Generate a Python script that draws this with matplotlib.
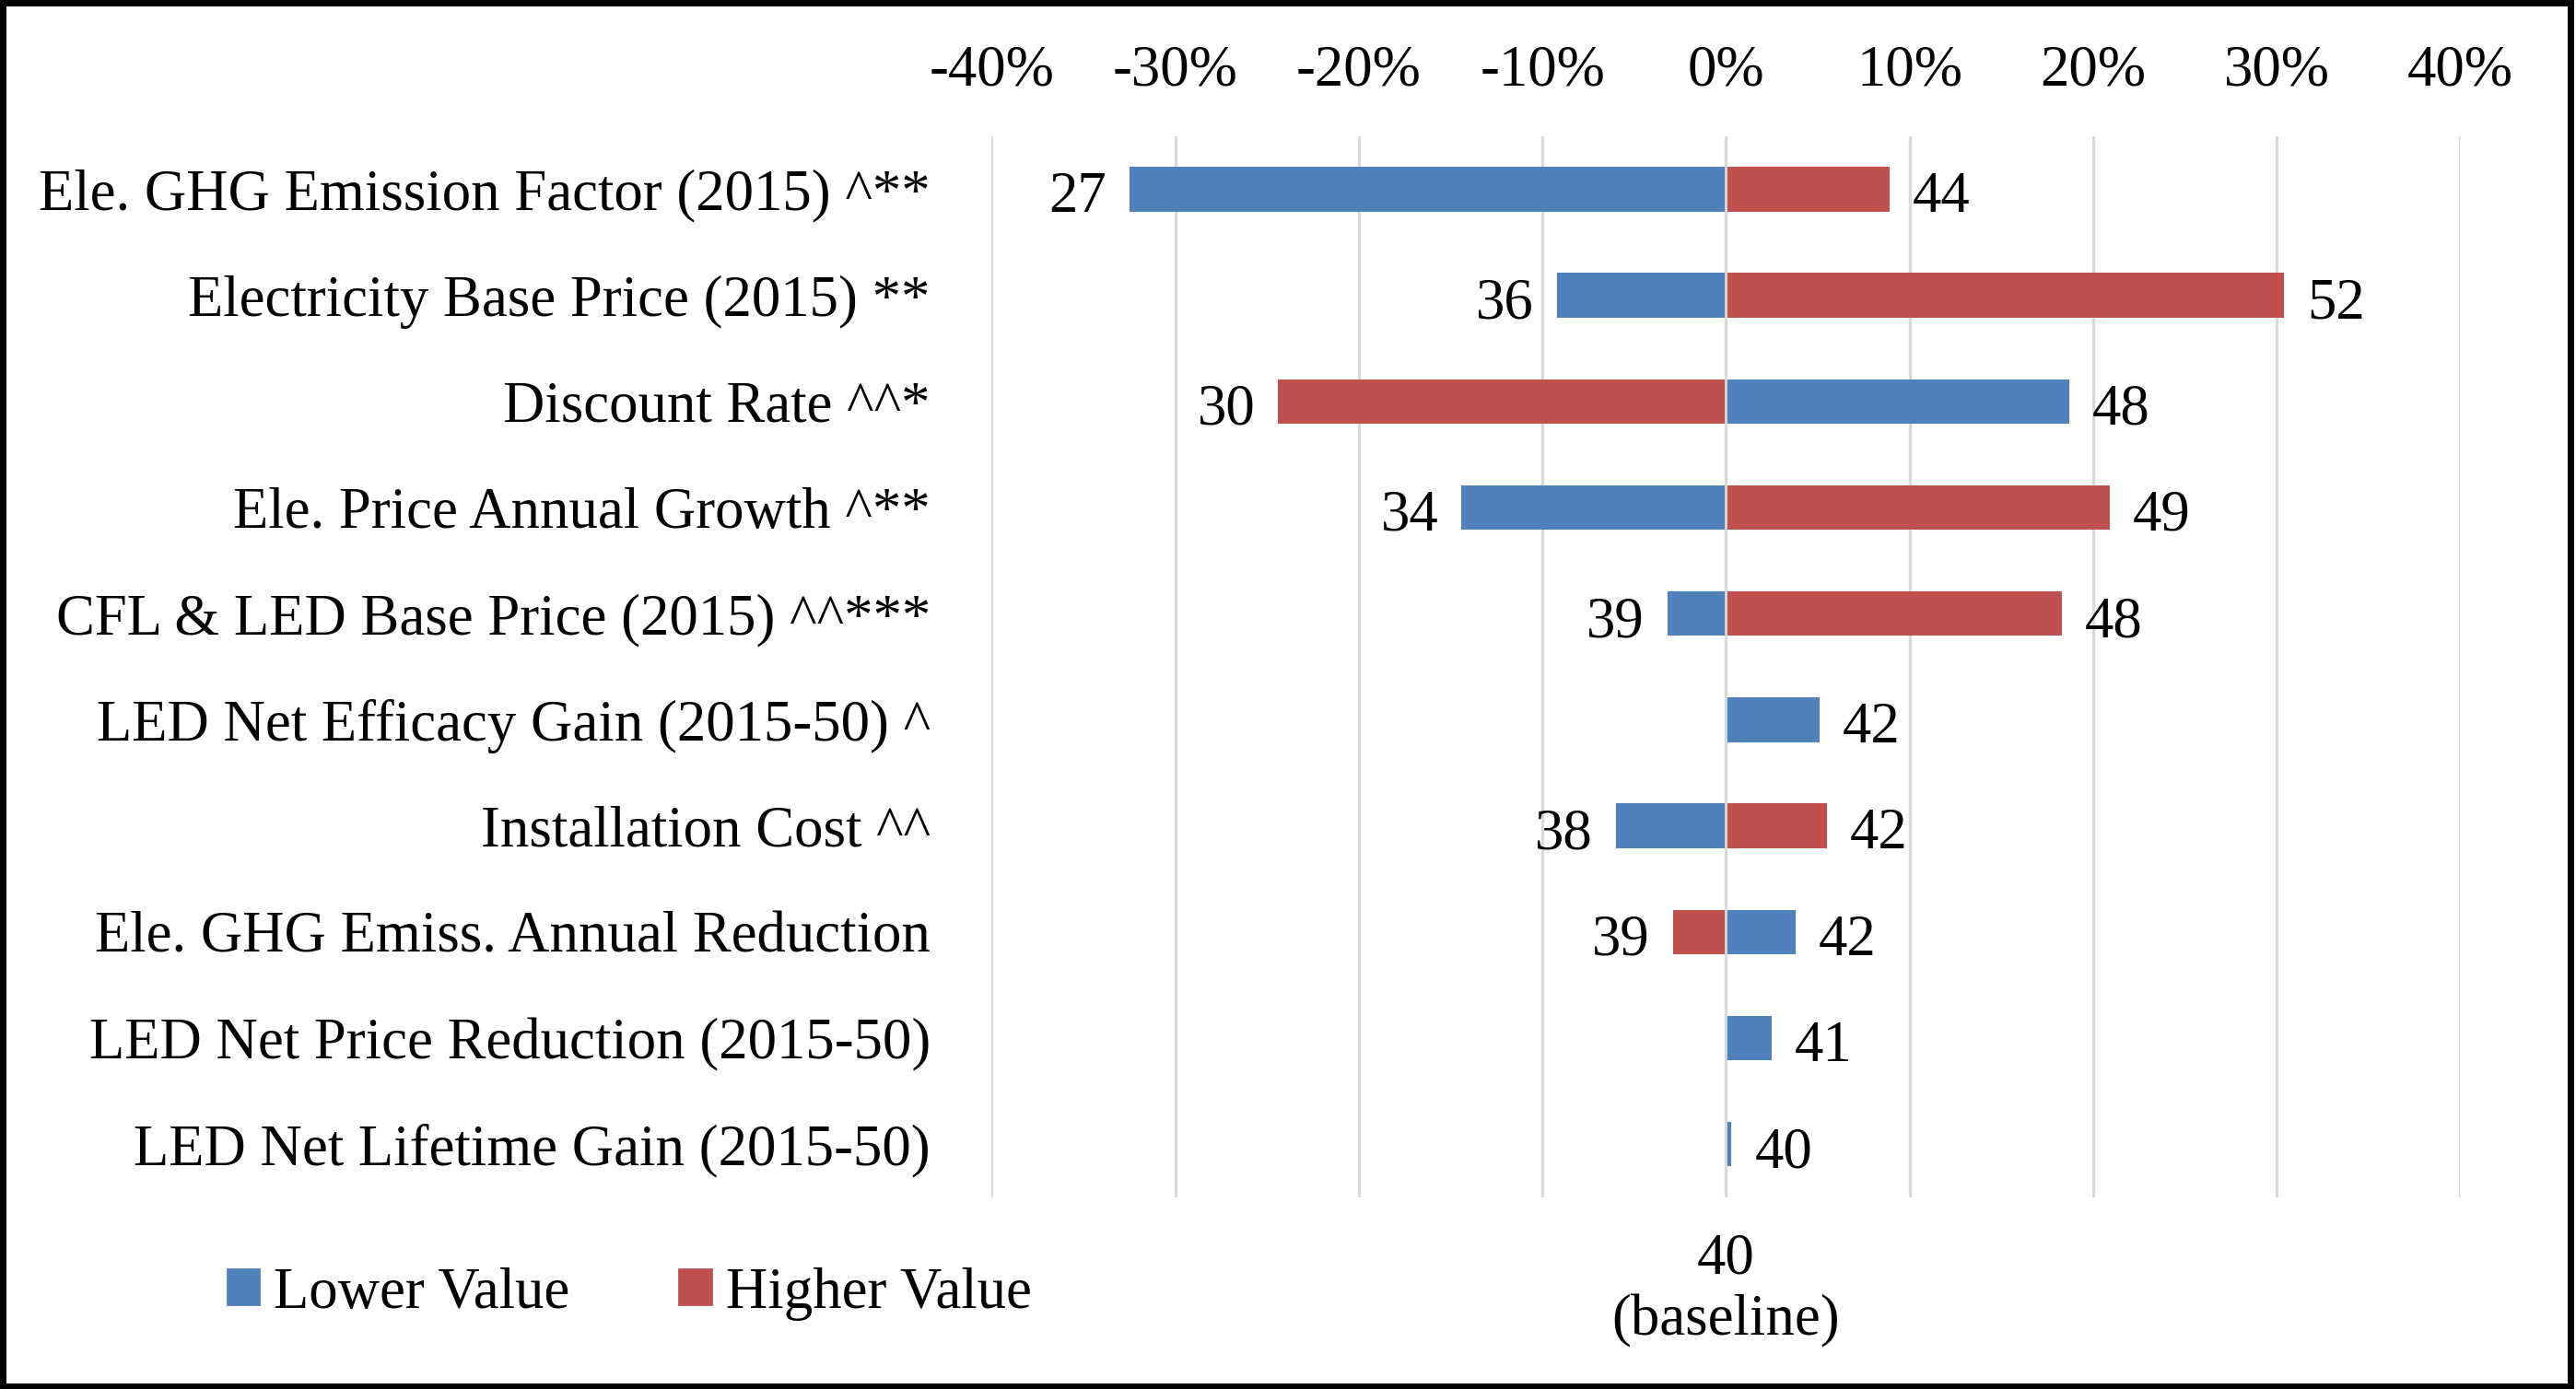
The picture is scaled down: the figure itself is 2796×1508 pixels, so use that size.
import matplotlib.pyplot as plt
from matplotlib.patches import Patch, Rectangle
import numpy as np

plt.rcParams["font.family"] = ["Liberation Serif", "DejaVu Serif"]

categories = [
    "Ele. GHG Emission Factor (2015) ^**",
    "Electricity Base Price (2015) **",
    "Discount Rate ^^*",
    "Ele. Price Annual Growth ^**",
    "CFL & LED Base Price (2015) ^^***",
    "LED Net Efficacy Gain (2015-50) ^",
    "Installation Cost ^^",
    "Ele. GHG Emiss. Annual Reduction",
    "LED Net Price Reduction (2015-50)",
    "LED Net Lifetime Gain (2015-50)",
]
# percent change from baseline (40) for the lower / higher input value
lower_pct = [-32.5, -9.2, 18.7, -14.4, -3.2, 5.1, -6.0, 3.8, 2.5, 0.3]
higher_pct = [8.9, 30.4, -24.4, 20.9, 18.3, np.nan, 5.5, -2.9, np.nan, np.nan]
lower_val = [27, 36, 48, 34, 39, 42, 38, 42, 41, 40]
higher_val = [44, 52, 30, 49, 48, None, 42, 39, None, None]
baseline = 40
xticks = [-40, -30, -20, -10, 0, 10, 20, 30, 40]

BLUE = "#4F81BD"
RED = "#C0504D"
FS = 22.6

fig = plt.figure(figsize=(13.98, 7.54), dpi=200)
ax = fig.add_axes([0.385, 0.138, 0.570, 0.764])

y = np.arange(len(categories))
h = 0.42
ax.barh(y, lower_pct, height=h, color=BLUE, zorder=2)
ax.barh(y, np.nan_to_num(higher_pct), height=h, color=RED, zorder=2)

for i in range(len(categories)):
    pairs = [(lower_pct[i], lower_val[i]), (higher_pct[i], higher_val[i])]
    for pct, val in pairs:
        if val is None:
            continue
        if pct < 0:
            ax.annotate(str(val), (pct, i), xytext=(-9, -1), textcoords="offset points",
                        ha="right", va="center_baseline", fontsize=FS)
        else:
            ax.annotate(str(val), (pct, i), xytext=(9, -1), textcoords="offset points",
                        ha="left", va="center_baseline", fontsize=FS)

ax.axvline(0, color="#D9D9D9", linewidth=1.0, zorder=3)
ax.set_xlim(-40, 40)
ax.set_ylim(len(categories) - 0.5, -0.5)
ax.set_xticks(xticks)
ax.set_xticklabels([f"{t}%" for t in xticks], fontsize=FS)
ax.xaxis.tick_top()
ax.set_yticks(y)
ax.set_yticklabels(categories, fontsize=FS)
ax.tick_params(axis="both", length=0)
ax.tick_params(axis="x", pad=15)
ax.tick_params(axis="y", pad=24)
ax.grid(axis="x", color="#D9D9D9", linewidth=1.2, zorder=0)
ax.set_axisbelow(True)
for s in ax.spines.values():
    s.set_visible(False)

ax.text(0, -0.088, f"{baseline}\n(baseline)", transform=ax.get_xaxis_transform(),
        ha="center", va="center", fontsize=FS, linespacing=1.2)

handles = [Patch(color=BLUE), Patch(color=RED)]
fig.legend(handles, ["Lower Value", "Higher Value"], loc="center left",
           bbox_to_anchor=(0.068, 1 - 788 / 846), ncol=2, frameon=False,
           fontsize=FS, handlelength=0.55, handleheight=0.55,
           handletextpad=0.25, columnspacing=1.9)

fig.patches.append(Rectangle((0.001, 0.002), 0.997, 0.996, transform=fig.transFigure,
                             fill=False, edgecolor="black", linewidth=2.5))

fig.savefig("out.png", dpi=200)
